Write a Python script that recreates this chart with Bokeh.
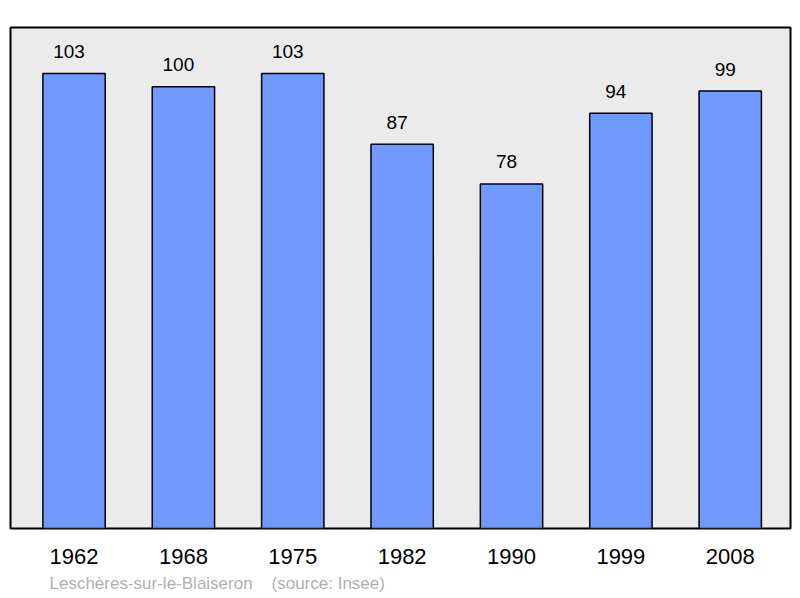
from bokeh.plotting import figure
from bokeh.models import Range1d, FixedTicker, ColumnDataSource, Title
from bokeh.core.properties import value
from bokeh.embed import file_html
from bokeh.resources import INLINE

years = ["1962", "1968", "1975", "1982", "1990", "1999", "2008"]
population = [103, 100, 103, 87, 78, 94, 99]
source_text = "Leschères-sur-le-Blaiseron\u00a0\u00a0\u00a0\u00a0(source: Insee)"

idx = list(range(len(years)))
src = ColumnDataSource(data=dict(x=idx, top=population, label=[str(v) for v in population]))

p = figure(width=800, height=598, output_backend="svg", toolbar_location=None,
           x_range=Range1d(-0.581, 6.551), y_range=Range1d(0, 113.4),
           y_axis_location=None, min_border_left=10, min_border_right=10,
           min_border_top=27, min_border_bottom=70)
p.background_fill_color = "#ebebeb"
p.border_fill_color = "white"
p.outline_line_color = "black"
p.outline_line_width = 2
p.xgrid.visible = False
p.ygrid.visible = False

p.vbar(x="x", top="top", width=0.57, bottom=0, source=src,
       fill_color="#7099ff", line_color="black", line_width=1.5)
p.text(x="x", y="top", text="label", source=src, text_align="center",
       text_baseline="alphabetic", y_offset=-22, x_offset=-5,
       text_font=value("Liberation Sans"), text_font_size="19px", text_color="black")

ax = p.xaxis[0]
ax.ticker = FixedTicker(ticks=idx)
ax.major_label_overrides = {i: y for i, y in zip(idx, years)}
ax.axis_line_color = None
ax.major_tick_line_color = None
ax.minor_tick_line_color = None
ax.major_tick_out = 0
ax.major_tick_in = 0
ax.major_label_text_font = "Liberation Sans"
ax.major_label_text_font_size = "22px"
ax.major_label_text_color = "black"
ax.major_label_standoff = 20

t = Title(text=source_text, align="left", offset=39, standoff=11,
          text_font="Liberation Sans", text_font_size="17px",
          text_font_style="normal", text_color="#b0b0b0")
p.add_layout(t, "below")

open("out.html", "w").write(file_html(p, INLINE))
